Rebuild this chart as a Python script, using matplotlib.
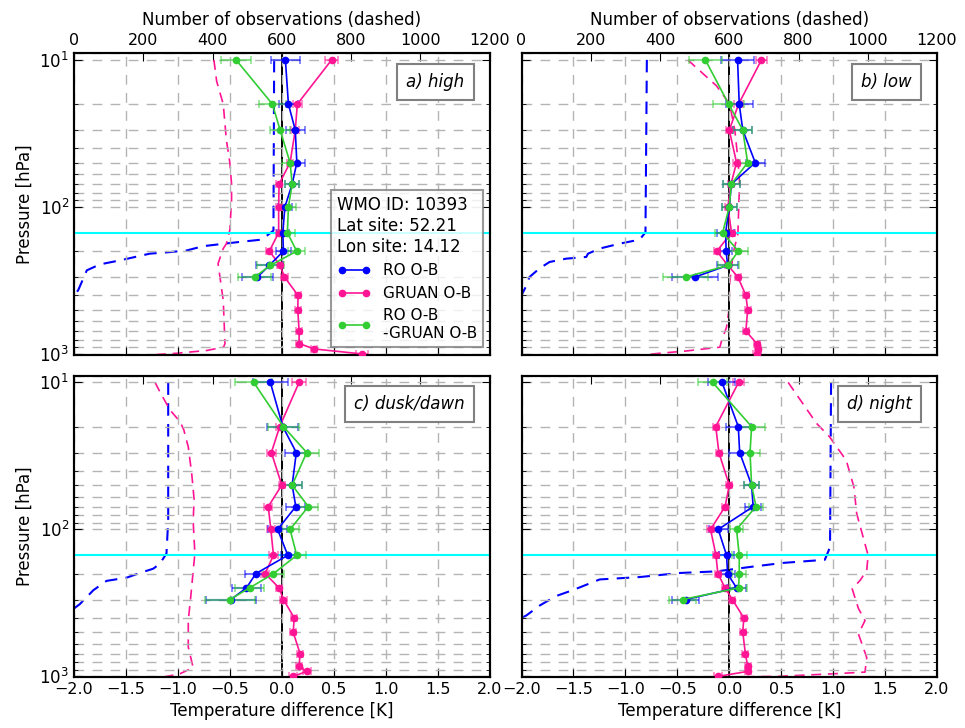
import numpy as np
import matplotlib
matplotlib.use("Agg")
from matplotlib import pyplot as plt
from matplotlib.lines import Line2D
from matplotlib.ticker import MultipleLocator, NullFormatter

# pressure levels [hPa]
plev = [10, 20, 30, 50, 70, 100, 150, 200, 250, 300, 400, 500, 700, 850, 925, 1000]
plev_ro = plev[:10]
tropopause = 150

# a) high
ro_a = [0.035, 0.064, 0.13, 0.145, 0.10, 0.03, 0.01, 0.016, -0.12, -0.234]
ro_err_a = [0.14, 0.09, 0.09, 0.08, 0.07, 0.07, 0.06, 0.07, 0.13, 0.15]
gr_a = [0.48, 0.15, 0.13, 0.08, -0.026, -0.03, -0.03, -0.12, -0.016, 0.026,
        0.157, 0.154, 0.167, 0.167, 0.31, 0.77]
gr_err_a = [0.06, 0.04, 0.04, 0.03, 0.03, 0.03, 0.03, 0.03, 0.03, 0.03,
            0.03, 0.03, 0.03, 0.03, 0.03, 0.06]
df_a = [-0.44, -0.09, -0.016, 0.08, 0.10, 0.064, 0.054, 0.144, -0.11, -0.26]
df_err_a = [0.145, 0.13, 0.10, 0.08, 0.07, 0.07, 0.07, 0.08, 0.13, 0.16]
n_ro_p_a = [10, 145, 167, 173, 185, 198, 203, 208, 231, 246, 270, 369, 400]
n_ro_a = [578, 576, 542, 479, 373, 325, 277, 219, 133, 75, 37, 12, 0]
n_gr_p_a = [10, 14, 20, 35, 50, 70, 90, 144, 178, 192, 243, 433, 850, 900, 948, 990, 1010]
n_gr_a = [404, 412, 431, 440, 450, 455, 455, 450, 440, 431, 416, 431, 436, 432, 383, 296, 238]

# b) low
ro_b = [0.08, 0.096, 0.13, 0.25, 0.02, 0.0, -0.035, -0.03, -0.016, -0.33]
ro_err_b = [0.155, 0.13, 0.09, 0.09, 0.08, 0.07, 0.085, 0.06, 0.10, 0.22]
gr_b = [0.31, 0.09, 0.0, 0.07, 0.016, -0.013, 0.022, -0.12, -0.013, 0.083,
        0.16, 0.177, 0.16, 0.265, 0.28, 0.27]
gr_err_b = [0.05, 0.04, 0.03, 0.03, 0.03, 0.03, 0.03, 0.03, 0.03, 0.03,
            0.03, 0.03, 0.03, 0.03, 0.03, 0.04]
df_b = [-0.23, -0.006, 0.13, 0.177, 0.02, 0.0, -0.064, 0.087, -0.01, -0.42]
df_err_b = [0.16, 0.15, 0.09, 0.08, 0.08, 0.07, 0.07, 0.09, 0.10, 0.22]
n_ro_p_b = [10, 149, 167, 178, 192, 208, 219, 225, 237, 262, 300, 351, 400]
n_ro_b = [362, 358, 341, 283, 226, 192, 187, 129, 81, 52, 23, 12, 0]
n_gr_p_b = [10, 15, 20, 30, 50, 71, 90, 152, 208, 333, 505, 660, 810, 900, 955, 990, 1010]
n_gr_b = [480, 563, 601, 616, 626, 630, 628, 625, 611, 601, 599, 592, 578, 573, 476, 399, 360]

# c) dusk/dawn
ro_c = [-0.11, 0.01, 0.14, 0.10, 0.135, -0.04, 0.058, -0.25, -0.34, -0.49]
ro_err_c = [0.17, 0.15, 0.11, 0.09, 0.09, 0.09, 0.07, 0.10, 0.14, 0.24]
gr_c = [0.167, -0.02, -0.10, 0.0, -0.13, -0.105, -0.08, -0.16, -0.026, 0.016,
        0.12, 0.11, 0.176, 0.167, 0.24, 0.11]
gr_err_c = [0.07, 0.04, 0.04, 0.03, 0.04, 0.04, 0.04, 0.04, 0.03, 0.03,
            0.03, 0.03, 0.03, 0.03, 0.04, 0.04]
df_c = [-0.27, 0.016, 0.24, 0.10, 0.256, 0.08, 0.144, -0.08, -0.31, -0.50]
df_err_c = [0.18, 0.15, 0.12, 0.09, 0.09, 0.085, 0.085, 0.10, 0.14, 0.24]
n_ro_p_c = [10, 87, 146, 171, 185, 198, 213, 224, 259, 322, 345]
n_ro_c = [272, 272, 267, 248, 229, 190, 152, 94, 56, 17, 0]
n_gr_p_c = [10, 11.6, 15.4, 18.5, 21, 27.5, 42, 63, 87, 146, 289, 417, 632, 870, 960, 1010]
n_gr_c = [234, 248, 277, 306, 317, 330, 340, 347, 344, 349, 337, 330, 330, 344, 306, 258]

# d) night
ro_d = [-0.07, 0.087, 0.10, 0.215, 0.23, -0.106, -0.026, -0.016, 0.07, -0.42]
ro_err_d = [0.13, 0.12, 0.10, 0.07, 0.08, 0.09, 0.07, 0.07, 0.09, 0.13]
gr_d = [0.09, -0.13, -0.10, 0.0, -0.04, -0.18, -0.128, -0.11, -0.04, 0.03,
        0.14, 0.13, 0.155, 0.177, 0.177, -0.11]
gr_err_d = [0.05, 0.03, 0.03, 0.03, 0.03, 0.03, 0.03, 0.03, 0.03, 0.03,
            0.03, 0.03, 0.03, 0.03, 0.03, 0.04]
df_d = [-0.16, 0.215, 0.20, 0.215, 0.257, 0.07, 0.096, 0.096, 0.09, -0.45]
df_err_d = [0.14, 0.13, 0.10, 0.07, 0.07, 0.06, 0.07, 0.065, 0.08, 0.13]
n_ro_p_d = [10, 132, 161, 169, 179, 193, 198, 211, 219, 259, 284, 330, 385, 400]
n_ro_d = [894, 891, 876, 756, 669, 563, 457, 341, 226, 148, 100, 52, 14, 0]
n_gr_p_d = [10, 19, 23.5, 34, 51.5, 78, 150, 190, 222, 254, 345, 417, 514, 744, 935, 960, 1000, 1010]
n_gr_d = [770, 852, 890, 938, 960, 968, 1001, 997, 978, 955, 973, 992, 973, 997, 992, 900, 736, 563]

panel_labels = ["a) high", "b) low", "c) dusk/dawn", "d) night"]
legend_labels = ["RO O-B", "GRUAN O-B", "RO O-B\n-GRUAN O-B"]
site_info = "WMO ID: 10393\nLat site: 52.21\nLon site: 14.12"

c_ro = "#0000ff"
c_gr = "#ff1493"
c_df = "#32cd32"

plt.rcParams.update({
    "font.family": "DejaVu Sans",
    "font.size": 12,
    "axes.linewidth": 1.5,
    "xtick.direction": "in",
    "ytick.direction": "in",
    "xtick.major.size": 6,
    "ytick.major.size": 6,
    "ytick.minor.size": 3,
    "xtick.labelsize": 11.5,
    "ytick.labelsize": 12,
})

fig, axs = plt.subplots(2, 2, figsize=(9.65, 7.28), dpi=100, sharex=True, sharey=True)
fig.subplots_adjust(left=0.0767, right=0.971, top=0.927, bottom=0.07,
                    wspace=0.077, hspace=0.07)

panels = [
    (ro_a, ro_err_a, gr_a, gr_err_a, df_a, df_err_a, n_ro_p_a, n_ro_a, n_gr_p_a, n_gr_a),
    (ro_b, ro_err_b, gr_b, gr_err_b, df_b, df_err_b, n_ro_p_b, n_ro_b, n_gr_p_b, n_gr_b),
    (ro_c, ro_err_c, gr_c, gr_err_c, df_c, df_err_c, n_ro_p_c, n_ro_c, n_gr_p_c, n_gr_c),
    (ro_d, ro_err_d, gr_d, gr_err_d, df_d, df_err_d, n_ro_p_d, n_ro_d, n_gr_p_d, n_gr_d),
]

dash = (0, (7, 6))
for i, ax in enumerate(axs.flat):
    ro, ro_err, gr, gr_err, df, df_err, nrp, nr, ngp, ng = panels[i]
    row, col = divmod(i, 2)

    ax.set_yscale("log")
    ax.set_xlim(-2, 2)
    ax.set_ylim(1010, 9)
    ax.xaxis.set_major_locator(MultipleLocator(0.5))
    ax.yaxis.set_minor_formatter(NullFormatter())
    ax.grid(True, which="both", axis="y", ls=dash, color="#b4b4b4", lw=1)
    ax.grid(True, which="major", axis="x", ls=dash, color="#b4b4b4", lw=1)
    ax.tick_params(axis="x", top=False, bottom=True)
    ax.tick_params(axis="y", which="both", left=True, right=True)

    ax.axhline(tropopause, color="cyan", lw=1.5, zorder=1.2)
    ax.axvline(0, color="k", lw=1.4, zorder=1.2)

    for x, err, p, c in [(gr, gr_err, plev, c_gr), (ro, ro_err, plev_ro, c_ro),
                         (df, df_err, plev_ro, c_df)]:
        ax.errorbar(x, p, xerr=err, fmt="none", ecolor=c, alpha=0.55,
                    elinewidth=1.5, capsize=3, capthick=1.2, zorder=2)
        ax.plot(x, p, "-o", color=c, ms=4.5, lw=1.2, zorder=3)

    ax.text(0.94, 0.935, panel_labels[i], transform=ax.transAxes, ha="right", va="top",
            fontsize=12, style="italic", zorder=6,
            bbox=dict(boxstyle="square,pad=0.55", fc="white", ec="gray", lw=1.5))

    ax2 = ax.twiny()
    ax2.set_xlim(0, 1200)
    ax2.xaxis.set_major_locator(MultipleLocator(200))
    ax2.plot(nr, nrp, "--", color=c_ro, lw=1.5, dashes=(6, 4))
    ax2.plot(ng, ngp, "--", color=c_gr, lw=1.2, dashes=(6, 4))
    ax2.tick_params(axis="x", direction="in", length=6, labelsize=11.5)
    if row == 0:
        ax2.set_xlabel("Number of observations (dashed)", fontsize=12, labelpad=6)
    else:
        ax2.tick_params(axis="x", labeltop=False)
    ax.set_zorder(ax2.get_zorder() + 1)
    ax.patch.set_visible(False)

    if row == 1:
        ax.set_xlabel("Temperature difference [K]", fontsize=12)
    if col == 0:
        ax.set_ylabel("Pressure [hPa]", fontsize=12)

    if i == 0:
        handles = [Line2D([], [], color=c, marker="o", ms=4.5, lw=1.2)
                   for c in (c_ro, c_gr, c_df)]
        leg = ax.legend(handles, legend_labels, title=site_info, title_fontsize=12,
                        fontsize=11, loc="lower right", bbox_to_anchor=(0.985, 0.025),
                        borderaxespad=0, alignment="left", fancybox=False,
                        edgecolor="gray", framealpha=0.8, numpoints=2,
                        handlelength=2.2)
        leg.get_title().set_multialignment("left")
        leg.get_frame().set_linewidth(1.5)
        leg.set_zorder(7)

fig.savefig("out.png", dpi=100, facecolor="white")
